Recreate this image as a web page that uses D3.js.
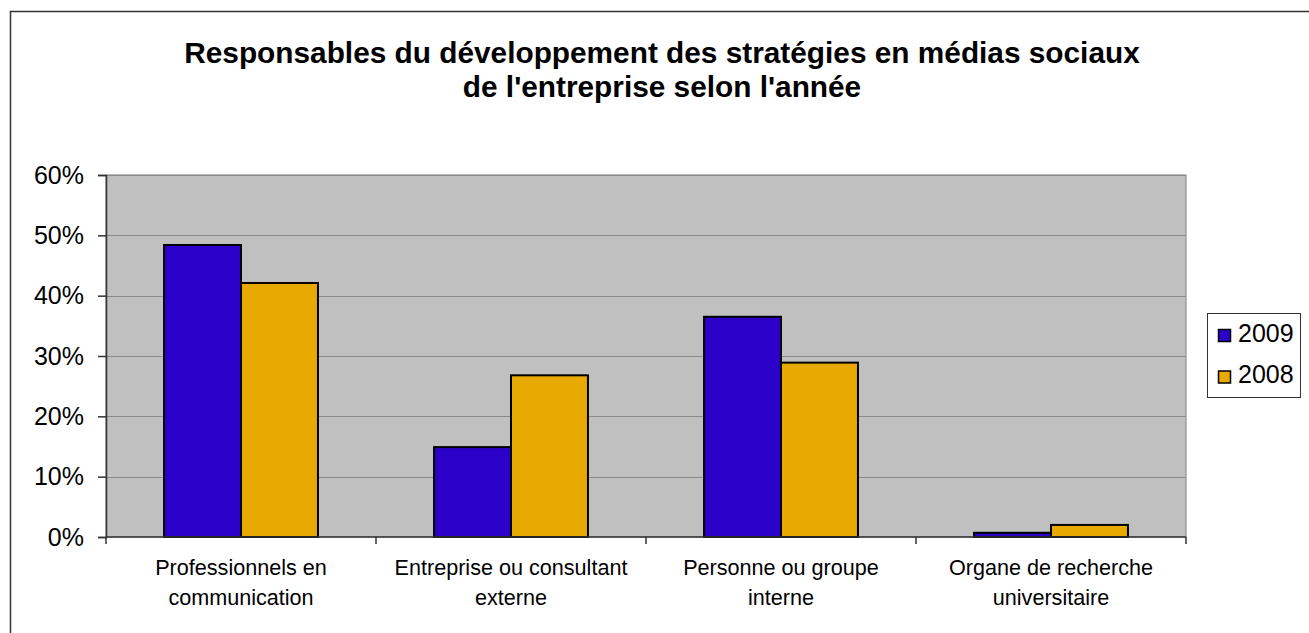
<!DOCTYPE html>
<html>
<head>
<meta charset="utf-8">
<script src="https://cdn.jsdelivr.net/npm/d3@7"></script>
<style>
  html, body { margin: 0; padding: 0; background: #fff; }
  svg { display: block; font-family: "Liberation Sans", Arial, sans-serif; }
</style>
</head>
<body>
<svg id="chart" width="1309" height="633"></svg>
<script>
const titleLines = ["Responsables du développement des stratégies en médias sociaux", "de l'entreprise selon l'année"];
const categories = [
  ["Professionnels en", "communication"],
  ["Entreprise ou consultant", "externe"],
  ["Personne ou groupe", "interne"],
  ["Organe de recherche", "universitaire"]
];
const seriesNames = ["2009", "2008"];
const values2009 = [0.484, 0.149, 0.365, 0.007];
const values2008 = [0.421, 0.268, 0.289, 0.020];
const yTicks = [0, 0.1, 0.2, 0.3, 0.4, 0.5, 0.6];
const colors = ["#2B00C9", "#E8AA00"];

const svg = d3.select("#chart");
const plot = { left: 106, right: 1186, top: 175, bottom: 537 };

// outer chart border (only left/top visible)
svg.append("rect").attr("x", 10.5).attr("y", 11.5).attr("width", 1400).attr("height", 700)
  .attr("fill", "#fff").attr("stroke", "#333").attr("stroke-width", 1.5);

// title
const title = svg.append("text").attr("text-anchor", "middle")
  .attr("font-weight", "bold").attr("font-size", 29.8).attr("fill", "#000");
titleLines.forEach((t, i) => {
  title.append("tspan").attr("x", 662).attr("y", 63 + i * 34).text(t);
});

const catKeys = categories.map((c, i) => i);
const x0 = d3.scaleBand().domain(catKeys).range([plot.left, plot.right])
  .paddingInner(0.43).paddingOuter(0.215);
const x1 = d3.scaleBand().domain(seriesNames).range([0, x0.bandwidth()]).padding(0);
const y = d3.scaleLinear().domain([0, 0.6]).range([plot.bottom, plot.top]);

// plot background
svg.append("rect").attr("x", plot.left).attr("y", plot.top)
  .attr("width", plot.right - plot.left).attr("height", plot.bottom - plot.top)
  .attr("fill", "#C0C0C0").attr("stroke", "#808080").attr("stroke-width", 1);

// gridlines
svg.append("g").selectAll("line").data(yTicks.filter(d => d > 0)).join("line")
  .attr("x1", plot.left).attr("x2", plot.right)
  .attr("y1", d => Math.round(y(d)) + 0.5).attr("y2", d => Math.round(y(d)) + 0.5)
  .attr("stroke", "#8a8a8a").attr("stroke-width", 1);

// bars
const data = catKeys.map(i => ({ cat: i, vals: [values2009[i], values2008[i]] }));
const groups = svg.append("g").selectAll("g").data(data).join("g")
  .attr("transform", d => `translate(${x0(d.cat)},0)`);
groups.selectAll("rect").data(d => d.vals.map((v, j) => ({ key: seriesNames[j], v, j }))).join("rect")
  .attr("x", d => x1(d.key)).attr("width", x1.bandwidth())
  .attr("y", d => y(d.v)).attr("height", d => y(0) - y(d.v))
  .attr("fill", d => colors[d.j]).attr("stroke", "#000").attr("stroke-width", 2);

// y axis
const yAxis = svg.append("g").attr("transform", `translate(${plot.left},0)`)
  .call(d3.axisLeft(y).tickValues(yTicks).tickFormat(d3.format(".0%")).tickSize(8).tickPadding(14));
yAxis.select(".domain").attr("stroke", "#333").attr("stroke-width", 1.5);
yAxis.selectAll(".tick line").attr("stroke", "#333").attr("stroke-width", 1.5);
yAxis.selectAll(".tick text").attr("font-size", 25).attr("fill", "#000")
  .attr("font-family", "Liberation Sans, Arial, sans-serif");

// x axis
const step = x0.step();
const boundaries = catKeys.map(i => x0(i) - step * x0.paddingInner() / 2).concat([plot.right]);
const xAxis = svg.append("g");
xAxis.append("line").attr("x1", plot.left).attr("x2", plot.right)
  .attr("y1", plot.bottom).attr("y2", plot.bottom).attr("stroke", "#333").attr("stroke-width", 1.5);
xAxis.selectAll("line.tk").data(boundaries).join("line").attr("class", "tk")
  .attr("x1", d => d).attr("x2", d => d).attr("y1", plot.bottom).attr("y2", plot.bottom + 7)
  .attr("stroke", "#333").attr("stroke-width", 1.5);
const labels = xAxis.selectAll("text").data(data).join("text")
  .attr("text-anchor", "middle").attr("font-size", 21.6).attr("fill", "#000");
labels.each(function(d) {
  const t = d3.select(this);
  categories[d.cat].forEach((line, k) => {
    t.append("tspan").attr("x", x0(d.cat) + x0.bandwidth() / 2).attr("y", 575 + k * 29.5).text(line);
  });
});

// legend
const legend = svg.append("g");
legend.append("rect").attr("x", 1207.5).attr("y", 313.5).attr("width", 93).attr("height", 84)
  .attr("fill", "#fff").attr("stroke", "#333").attr("stroke-width", 1);
const li = legend.selectAll("g.item").data(seriesNames).join("g").attr("class", "item")
  .attr("transform", (d, i) => `translate(0,${i * 41.5})`);
li.append("rect").attr("x", 1218.5).attr("y", 329.5).attr("width", 12).attr("height", 12)
  .attr("fill", (d, i) => colors[i]).attr("stroke", "#000").attr("stroke-width", 1.5);
li.append("text").attr("x", 1238).attr("y", 341.5).attr("font-size", 25).attr("fill", "#000").text(d => d);
</script>
</body>
</html>
